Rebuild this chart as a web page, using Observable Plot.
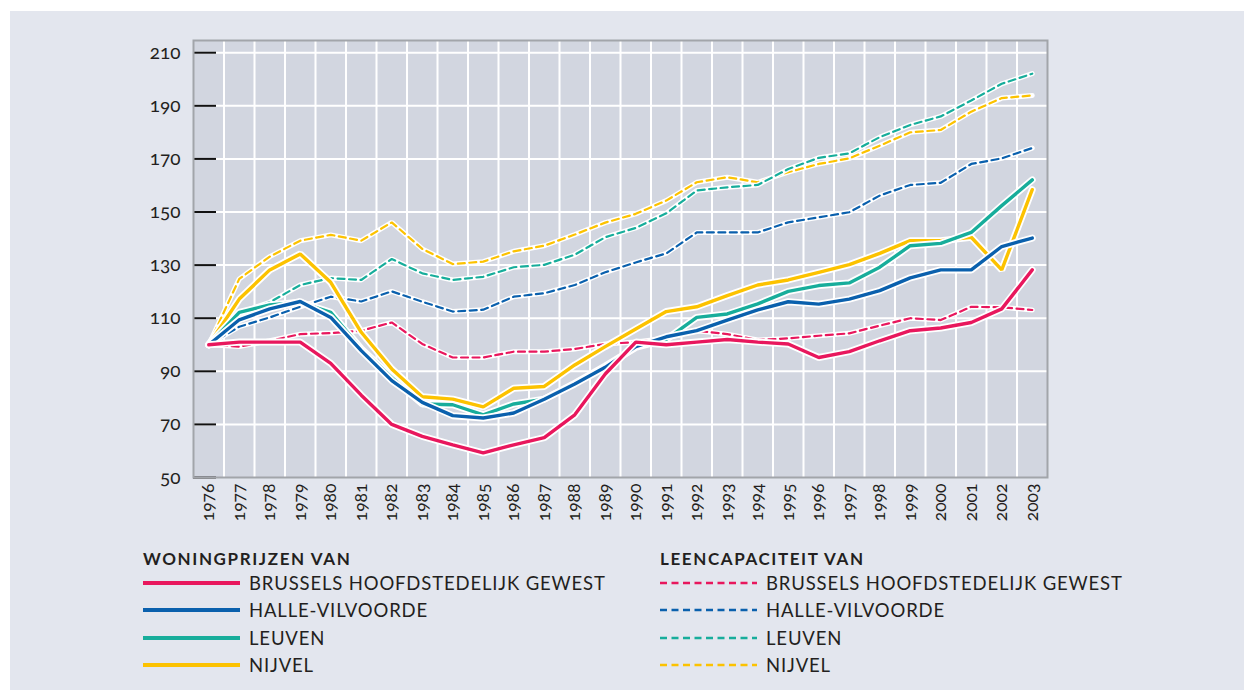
<!DOCTYPE html>
<html><head><meta charset="utf-8">
<script src="https://cdn.jsdelivr.net/npm/d3@7"></script>
<script src="https://cdn.jsdelivr.net/npm/@observablehq/plot@0.6"></script>
<style>
html,body{margin:0;padding:0;background:#fff;width:1244px;height:690px;overflow:hidden;}
#panel{position:absolute;left:10px;top:11px;width:1234px;height:679px;background:#e3e6ee;}
#chart{position:absolute;left:0;top:0;}
#chart svg{overflow:visible;}
#chart svg text{font-feature-settings:"onum" 1;font-variant-numeric:oldstyle-nums;}
.legend{position:absolute;font-family:Lato,sans-serif;color:#231f20;}
.legend .hdr{font-weight:bold;font-size:17px;height:21px;line-height:21px;letter-spacing:1.6px;}
.legend .row{display:flex;align-items:center;height:27.5px;font-size:18.5px;letter-spacing:0.85px;}
.legend .row svg{margin-right:9px;}
</style></head>
<body>
<div id="panel"></div>
<div id="chart"></div>
<div class="legend" id="legL" style="left:143px;top:548px;"></div>
<div class="legend" id="legR" style="left:660px;top:548px;"></div>
<script>
const years = [1976,1977,1978,1979,1980,1981,1982,1983,1984,1985,1986,1987,1988,1989,1990,1991,1992,1993,1994,1995,1996,1997,1998,1999,2000,2001,2002,2003];
const yTicks = [50,70,90,110,130,150,170,190,210];

// Woningprijzen (solid)
const brusselsPrice = [100,101,101,101,93,81,70,65.5,62.3,59.3,62.3,65,73.6,89,101,100,101,102,101,100.3,95.2,97.4,101.5,105.3,106.3,108.4,113.5,128.2];
const hallePrice    = [100,109.4,113.5,116.3,110.3,97.8,86.5,78.3,73.3,72.4,74.3,79.5,85.2,91.5,99.3,103,105.3,109.3,113.1,116.2,115.3,117.2,120.4,125.2,128.2,128.2,137,140.2];
const leuvenPrice   = [100,112.2,115,116,112.2,98.5,87.7,77.7,77.4,73.6,77.7,79.5,85.5,92,99,102,110.3,111.6,115.4,120.1,122.3,123.3,129.2,137.3,138.2,142.3,152.4,162.1];
const nijvelPrice   = [100,117.2,128.2,134.2,123.5,104.7,90.9,80.4,79.5,76.6,83.6,84.3,92.4,99.3,105.9,112.5,114.3,118.5,122.5,124.4,127.3,130.2,134.4,139.2,139.2,140.5,128.2,158.4];

// Leencapaciteit (dashed)
const brusselsCap = [100,99.3,101.5,104,104.4,105.3,108.4,100.3,95.2,95.2,97.4,97.4,98.4,100.3,101,102.5,105.3,104,101.8,102.4,103.4,104.3,107.2,110,109.3,114.3,114.1,113.1];
const halleCap    = [100,106.8,110.3,114.3,118.1,116.3,120.1,116.2,112.5,113.2,118.1,119.4,122.5,127.3,131,134.4,142.3,142.3,142.3,146.1,148,149.9,156.2,160.2,161,168.1,170.2,174.1];
const leuvenCap   = [100,112,116,122.5,125.1,124.4,132.3,126.9,124.4,125.6,129.2,130.1,133.9,140.5,144,149.5,158.1,159.3,160.2,166.2,170.4,172.1,178.2,182.8,186,192,198.3,202.1];
const nijvelCap   = [100,124.8,133.2,139.2,141.4,139.2,146.1,136.1,130.4,131.3,135.2,137.3,141.5,146,149.3,154.3,161.2,163.1,161.2,165,168.1,170.2,175,180,180.9,187.8,192.9,193.9];

const regions = ["BRUSSELS HOOFDSTEDELIJK GEWEST","HALLE-VILVOORDE","LEUVEN","NIJVEL"];
const colors = ["#e8175d","#0a60ad","#17ad9b","#fcc200"];
const priceSeries = [brusselsPrice, hallePrice, leuvenPrice, nijvelPrice];
const capSeries = [brusselsCap, halleCap, leuvenCap, nijvelCap];
const legendTitles = ["WONINGPRIJZEN VAN","LEENCAPACITEIT VAN"];

const rows = [];
regions.forEach((r,i)=>{
  years.forEach((y,j)=>{
    rows.push({year:y, value:capSeries[i][j], region:r, kind:"cap"});
    rows.push({year:y, value:priceSeries[i][j], region:r, kind:"price"});
  });
});

const lineMarks = [];
const order = [3,2,1,0];
for (const i of order) {
  const d = rows.filter(r=>r.region===regions[i] && r.kind==="cap");
  lineMarks.push(Plot.line(d,{x:"year",y:"value",stroke:"#fff",strokeWidth:5,strokeLinejoin:"miter"}));
  lineMarks.push(Plot.line(d,{x:"year",y:"value",stroke:colors[i],strokeWidth:2.2,strokeDasharray:"7,4.5",strokeLinejoin:"miter"}));
}
for (const i of order) {
  const d = rows.filter(r=>r.region===regions[i] && r.kind==="price");
  lineMarks.push(Plot.line(d,{x:"year",y:"value",stroke:"#fff",strokeWidth:7,strokeLinejoin:"miter"}));
  lineMarks.push(Plot.line(d,{x:"year",y:"value",stroke:colors[i],strokeWidth:3.4,strokeLinejoin:"miter"}));
}

const gridX = years.slice(0,-1).map(y=>y+0.5);

const chart = Plot.plot({
  width:1244, height:540,
  marginLeft:193, marginRight:197, marginTop:40, marginBottom:63,
  style:{background:"transparent", fontFamily:"Lato, sans-serif", color:"#231f20"},
  x:{domain:[1975.5,2003.5]},
  y:{domain:[50,214.6]},
  marks:[
    Plot.frame({fill:"#d2d6e0"}),
    Plot.ruleX(gridX,{stroke:"#fff",strokeWidth:2}),
    Plot.ruleY(yTicks.filter(v=>v>50),{stroke:"#fff",strokeWidth:2}),
    ...lineMarks,
    Plot.tickY(yTicks,{stroke:"#111",strokeWidth:2,insetRight:831}),
    Plot.axisY(yTicks,{tickSize:0,tickPadding:13,fontSize:19,letterSpacing:1.5,label:null,tickFormat:d=>String(d)}),
    Plot.axisX(years,{tickSize:0,tickPadding:6,tickRotate:-90,fontSize:17.5,letterSpacing:0.8,label:null,tickFormat:d=>String(d)}),
    Plot.frame({stroke:"#a2a5aa",strokeWidth:2})
  ]
});
document.getElementById("chart").appendChild(chart);

function legend(el, title, dashed){
  let h = `<div class="hdr">${title}</div>`;
  regions.forEach((r,i)=>{
    const dash = dashed ? `stroke-dasharray="7,4.5"` : "";
    const sw = dashed ? 2.3 : 4;
    h += `<div class="row"><svg width="97" height="8"><line x1="0" y1="4" x2="97" y2="4" stroke="${colors[i]}" stroke-width="${sw}" ${dash} stroke-linecap="${dashed?'butt':'round'}"/></svg><span>${r}</span></div>`;
  });
  document.getElementById(el).innerHTML = h;
}
legend("legL", legendTitles[0], false);
legend("legR", legendTitles[1], true);
</script>
</body></html>
